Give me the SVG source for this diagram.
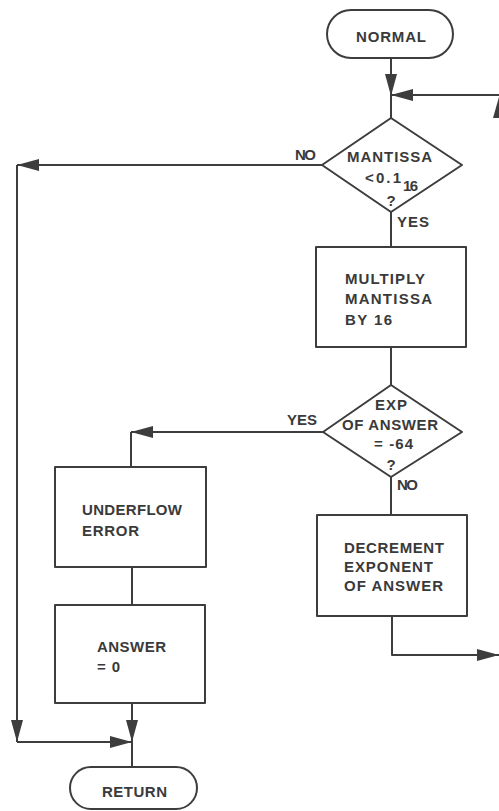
<svg xmlns="http://www.w3.org/2000/svg" width="499" height="811" viewBox="0 0 499 811">
<defs>
<style>
.s{fill:none;stroke:#3d3d3d;stroke-width:2;stroke-linejoin:round}
.t{font-family:"Liberation Sans",Arial,sans-serif;font-weight:bold;font-size:15px;fill:#3a3a3a}
.c{text-anchor:middle}
</style>
<marker id="ah" viewBox="0 0 22 12" refX="22" refY="6" markerWidth="22" markerHeight="12" markerUnits="userSpaceOnUse" orient="auto">
<path d="M0,0 L22,6 L0,12 z" fill="#3d3d3d"/>
</marker>
</defs>
<rect width="499" height="811" fill="#ffffff"/>
<g id="connectors">
<path class="s" d="M391,58 V96" marker-end="url(#ah)"/>
<path class="s" d="M391,96 V118"/>
<path class="s" d="M499,95 H391" marker-end="url(#ah)"/>
<polygon points="499,97 493,118 499,118" fill="#3d3d3d"/>
<path class="s" d="M322,165 H17" marker-end="url(#ah)"/>
<path class="s" d="M17,165 V742" marker-end="url(#ah)"/>
<path class="s" d="M17,742 H132" marker-end="url(#ah)"/>
<path class="s" d="M391,212 V247"/>
<path class="s" d="M391,347 V385"/>
<path class="s" d="M323,432 H131" marker-end="url(#ah)"/>
<path class="s" d="M131,432 V467"/>
<path class="s" d="M391,477 V515"/>
<path class="s" d="M392,616 V655 H499" marker-end="url(#ah)"/>
<path class="s" d="M132,567 V605"/>
<path class="s" d="M132,703 V742" marker-end="url(#ah)"/>
<path class="s" d="M132,742 V767"/>
<text class="t" x="295" y="160" textLength="21">NO</text>
<text class="t" x="397" y="227" textLength="32">YES</text>
<text class="t" x="287" y="425" textLength="30">YES</text>
<text class="t" x="397" y="490" textLength="21">NO</text>
</g>
<g id="normal">
<rect class="s" x="327" y="10" width="126" height="48" rx="24"/>
<text class="t" x="356" y="42" textLength="70">NORMAL</text>
</g>
<g id="decision1">
<polygon class="s" points="391,118 462,165 391,212 322,165"/>
<text class="t" x="347" y="162" textLength="85">MANTISSA</text>
<text class="t" x="365" y="183" textLength="36">&lt;0.1</text>
<text class="t" x="403" y="191" textLength="15">16</text>
<text class="t c" x="391" y="206">?</text>
</g>
<g id="multiply">
<rect class="s" x="316" y="247" width="150" height="100"/>
<text class="t" x="345" y="284" textLength="80">MULTIPLY</text>
<text class="t" x="345" y="304" textLength="87">MANTISSA</text>
<text class="t" x="345" y="325" textLength="47">BY  16</text>
</g>
<g id="decision2">
<polygon class="s" points="391,385 462,432 391,477 323,432"/>
<text class="t" x="375" y="410" textLength="32">EXP</text>
<text class="t" x="342" y="430" textLength="96">OF ANSWER</text>
<text class="t" x="374" y="449" textLength="39">= -64</text>
<text class="t c" x="391" y="470">?</text>
</g>
<g id="decrement">
<rect class="s" x="317" y="515" width="150" height="101"/>
<text class="t" x="344" y="553" textLength="100">DECREMENT</text>
<text class="t" x="344" y="572" textLength="89">EXPONENT</text>
<text class="t" x="344" y="591" textLength="99">OF ANSWER</text>
</g>
<g id="underflow">
<rect class="s" x="55" y="467" width="151" height="100"/>
<text class="t" x="82" y="515" textLength="100">UNDERFLOW</text>
<text class="t" x="82" y="536" textLength="57">ERROR</text>
</g>
<g id="answer">
<rect class="s" x="55" y="605" width="150" height="98"/>
<text class="t" x="97" y="652" textLength="69">ANSWER</text>
<text class="t" x="97" y="672" textLength="23">= 0</text>
</g>
<g id="return">
<rect class="s" x="70" y="767" width="127" height="42" rx="21"/>
<text class="t" x="102" y="797" textLength="65">RETURN</text>
</g>
</svg>
